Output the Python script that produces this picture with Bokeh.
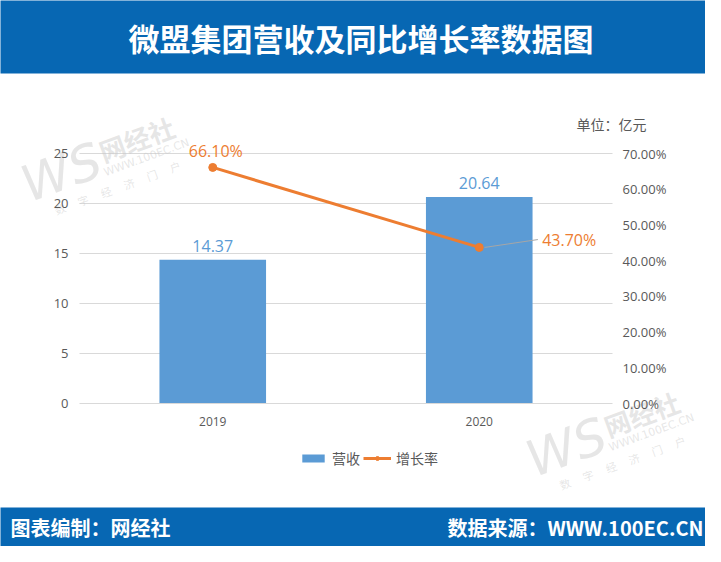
from bokeh.plotting import figure
from bokeh.models import (Range1d, LinearAxis, ColumnDataSource, Legend, LegendItem, Label,
                          FixedTicker, NumeralTickFormatter, BoxAnnotation)
from bokeh.transform import dodge
from bokeh.core.properties import value
from bokeh.embed import file_html
from bokeh.resources import INLINE

# ---------------- data ----------------
years = ["2019", "2020"]
revenue = [14.37, 20.64]          # 营收 (亿元)
growth = [0.661, 0.437]           # 同比增长率
left_ticks = [0, 5, 10, 15, 20, 25]
right_ticks = [0.0, 0.1, 0.2, 0.3, 0.4, 0.5, 0.6, 0.7]
title_text = "微盟集团营收及同比增长率数据图"
unit_text = "单位：亿元"
credit_left = "图表编制：网经社"
credit_right = "数据来源：WWW.100EC.CN"
series_names = ["营收", "增长率"]
watermark_texts = ["WS", "网经社", "WWW.100EC.CN", "数　 字　 经　 济　 门　 户"]

# ---------------- styles / layout ----------------
BLUE_BAND = "#0767b3"
BAR = "#5b9bd5"
LINE = "#ed7d31"
GRID = "#d9d9d9"
TICK = "#595959"
CJK = "Noto Sans CJK SC"
NUM = "Open Sans"
W, H = 705, 546
PLOT_L, PLOT_R = 79, 612          # pixel extent of the category area
PLOT_T, PLOT_B = 153, 403         # pixel positions of the top left tick and of zero
HEADER_H, FOOTER_TOP = 73, 507

n = len(years)
xs = [i + 0.5 for i in range(n)]                       # category centres
px_per_x = (PLOT_R - PLOT_L) / n
px_per_y = (PLOT_B - PLOT_T) / left_ticks[-1]
ratio = right_ticks[-1] / left_ticks[-1]
x_start = -PLOT_L / px_per_x
x_end = n + (W - PLOT_R) / px_per_x
y_start = -(H - PLOT_B) / px_per_y
y_end = PLOT_B / px_per_y

p = figure(width=W, height=H, output_backend="svg", toolbar_location=None,
           x_range=Range1d(x_start, x_end), y_range=Range1d(y_start, y_end),
           min_border=0, x_axis_location=None, y_axis_location=None)
p.title.visible = False
p.extra_y_ranges = {"pct": Range1d(y_start * ratio, y_end * ratio)}
p.outline_line_color = None
p.background_fill_color = "white"
p.border_fill_color = "white"

# ---------------- faint watermarks ----------------
wm_sizes = ["50px", "26px", "11px", "11px"]
wm_styles = ["italic", "bold", "normal", "normal"]
wm_offsets = [(0, 0), (75, 34), (85, 15), (56, -15)]   # relative to the "WS" mark
for ax_, ay_ in [(61, H - 172), (566, H - 447)]:
    for t, s, st, (dx, dy) in zip(watermark_texts, wm_sizes, wm_styles, wm_offsets):
        p.add_layout(Label(x=ax_ + dx, y=ay_ + dy, x_units="screen", y_units="screen",
                           text=t, text_align="center", text_baseline="middle",
                           angle=0.35, text_color="#c8c8c8", text_alpha=0.45,
                           text_font=CJK if st == "bold" or "数" in t else "DejaVu Sans",
                           text_font_style=st, text_font_size=s, level="underlay"))

# ---------------- header / footer bands ----------------
p.add_layout(BoxAnnotation(left=-10, right=W + 10, bottom=H - HEADER_H, top=H + 10,
                           left_units="screen", right_units="screen",
                           bottom_units="screen", top_units="screen",
                           fill_color=BLUE_BAND, fill_alpha=1, line_color=None,
                           level="underlay"))
p.add_layout(BoxAnnotation(left=-10, right=W + 10, bottom=-10, top=H - FOOTER_TOP,
                           left_units="screen", right_units="screen",
                           bottom_units="screen", top_units="screen",
                           fill_color=BLUE_BAND, fill_alpha=1, line_color=None,
                           level="underlay"))
p.add_layout(Label(x=360.5, y=H - 37, x_units="screen", y_units="screen",
                   text=title_text, text_align="center", text_baseline="middle",
                   text_color="white", text_font=CJK, text_font_style="bold",
                   text_font_size="31px"))
p.add_layout(Label(x=10, y=(H - FOOTER_TOP) / 2, x_units="screen", y_units="screen",
                   text=credit_left, text_align="left", text_baseline="middle",
                   text_color="white", text_font=CJK, text_font_style="bold",
                   text_font_size="20px"))
p.add_layout(Label(x=W - 2, y=(H - FOOTER_TOP) / 2, x_units="screen", y_units="screen",
                   text=credit_right, text_align="right", text_baseline="middle",
                   text_color="white", text_font=CJK, text_font_style="bold",
                   text_font_size="20px"))
p.add_layout(Label(x=646, y=H - 123, x_units="screen", y_units="screen",
                   text=unit_text, text_align="right", text_baseline="middle",
                   text_color=TICK, text_font=CJK, text_font_size="14px"))

# ---------------- grid ----------------
p.xgrid.visible = False
p.ygrid.visible = False
grid_src = ColumnDataSource(dict(y=left_ticks[1:], x0=[0] * (len(left_ticks) - 1),
                                 x1=[n] * (len(left_ticks) - 1)))
p.segment(x0="x0", y0="y", x1="x1", y1="y", source=grid_src,
          line_color=GRID, line_width=1, level="underlay")

# ---------------- data marks ----------------
src = ColumnDataSource(dict(
    x=xs, year=years, rev=revenue, growth=growth,
    rev_label=[f"{v:.2f}" for v in revenue],
))
bars = p.vbar(x="x", top="rev", width=0.4, source=src, fill_color=BAR, line_color=None)
line = p.line(x="x", y="growth", source=src, y_range_name="pct",
              line_color=LINE, line_width=3)
dots = p.scatter(x="x", y="growth", source=src, y_range_name="pct",
                 size=8, fill_color=LINE, line_color=LINE)

p.text(x="x", y="rev", text="rev_label", source=src, text_align="center",
       text_baseline="bottom", y_offset=-8, text_color=BAR,
       text_font=value(NUM), text_font_size="16px")

src0 = ColumnDataSource(dict(x=xs[:1], growth=growth[:1],
                             lab=[f"{v * 100:.2f}%" for v in growth[:1]]))
src1 = ColumnDataSource(dict(x=xs[1:], growth=growth[1:],
                             lab=[f"{v * 100:.2f}%" for v in growth[1:]]))
p.text(x="x", y="growth", text="lab", source=src0, y_range_name="pct",
       text_align="center", text_baseline="bottom", x_offset=3, y_offset=-5,
       text_color=LINE, text_font=value(NUM), text_font_size="16px")
p.segment(x0=dodge("x", 0.02), y0="growth", x1=dodge("x", 0.22), y1=dodge("growth", 0.022),
          source=src1, y_range_name="pct", line_color="#a6a6a6", line_width=1)
p.text(x=dodge("x", 0.236), y="growth", text="lab", source=src1,
       y_range_name="pct", text_align="left", text_baseline="middle", y_offset=-7,
       text_color=LINE, text_font=value(NUM), text_font_size="16px")

# ---------------- axes (drawn inside the canvas at fixed locations) ----------------
common = dict(major_tick_line_color=None, minor_tick_line_color=None,
              major_tick_out=0, major_tick_in=0, minor_tick_out=0, minor_tick_in=0,
              major_label_text_color=TICK, major_label_text_font=NUM)

laxis = LinearAxis(ticker=FixedTicker(ticks=left_ticks), fixed_location=0,
                   axis_line_color=None, major_label_text_font_size="13px",
                   major_label_standoff=11, **common)
p.add_layout(laxis, "left")

raxis = LinearAxis(y_range_name="pct", ticker=FixedTicker(ticks=right_ticks),
                   formatter=NumeralTickFormatter(format="0.00%"), fixed_location=n,
                   axis_line_color=None, major_label_text_font_size="13px",
                   major_label_standoff=10, **common)
p.add_layout(raxis, "right")

xaxis = LinearAxis(ticker=FixedTicker(ticks=xs), fixed_location=0, bounds=(0, n),
                   major_label_overrides={x: y for x, y in zip(xs, years)},
                   axis_line_color=GRID, major_label_text_font_size="12px",
                   major_label_standoff=13, **common)
p.add_layout(xaxis, "below")

# ---------------- legend ----------------
legend = Legend(items=[LegendItem(label=series_names[0], renderers=[bars]),
                       LegendItem(label=series_names[1], renderers=[line, dots])],
                orientation="horizontal", location=(299, H - 468),
                glyph_width=28, glyph_height=10, label_standoff=5, spacing=3,
                padding=0, margin=0, border_line_color=None,
                background_fill_alpha=0, label_text_font=CJK,
                label_text_font_size="14px", label_text_color=TICK)
p.add_layout(legend)

open("out.html", "w").write(file_html(p, INLINE))
